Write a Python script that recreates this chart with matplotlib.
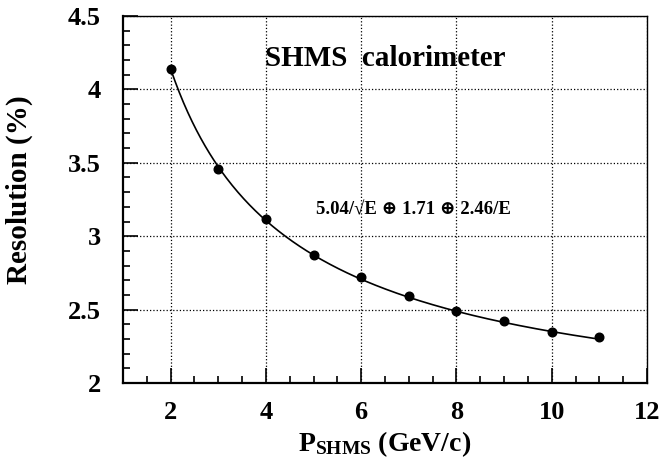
import matplotlib
matplotlib.use('Agg')
import matplotlib.pyplot as plt
import numpy as np

# data
momentum = [2, 3, 4, 5, 6, 7, 8, 9, 10, 11]
resolution = [4.14, 3.455, 3.12, 2.87, 2.725, 2.59, 2.49, 2.42, 2.345, 2.315]

# fit parameters printed on the chart
stoch = 5.04
const = 1.71
noise = 2.46

plt.rcParams['font.family'] = ['Liberation Serif', 'DejaVu Serif']
plt.rcParams['font.weight'] = 'bold'
plt.rcParams['mathtext.fontset'] = 'custom'
plt.rcParams['mathtext.rm'] = 'Liberation Serif:bold'
plt.rcParams['mathtext.bf'] = 'Liberation Serif:bold'
plt.rcParams['mathtext.it'] = 'Liberation Serif:bold'

fig = plt.figure(figsize=(6.62, 4.73), dpi=100)
ax = fig.add_axes([123 / 662, 1 - 383 / 473, (647 - 123) / 662, (383 - 16) / 473])

# fit curve
e = np.linspace(momentum[0], momentum[-1], 300)
fit = np.sqrt((stoch / np.sqrt(e)) ** 2 + const ** 2 + (noise / e) ** 2)
ax.plot(e, fit, color='black', lw=1.2, zorder=3)

# measured points
ax.plot(momentum, resolution, 'o', color='black', markersize=6.2, zorder=4)

ax.set_xlim(1, 12)
ax.set_ylim(2, 4.5)
ax.set_xticks([2, 4, 6, 8, 10, 12])
ax.set_xticks(np.arange(1, 12.01, 0.5), minor=True)
ax.set_yticks([2, 2.5, 3, 3.5, 4, 4.5])
ax.set_yticks(np.arange(2, 4.51, 0.1), minor=True)
ax.set_xticklabels(['2', '4', '6', '8', '10', '12'])
ax.set_yticklabels(['2', '2.5', '3', '3.5', '4', '4.5'])

ax.tick_params(which='both', direction='in', top=False, right=False,
               labelsize=19, width=1.2, color='black')
ax.tick_params(axis='x', which='major', length=11, pad=13)
ax.tick_params(axis='y', which='major', length=11, pad=16)
ax.tick_params(which='minor', length=5)
for lab in ax.get_xticklabels() + ax.get_yticklabels():
    lab.set_fontweight('bold')

ax.grid(True, which='major', linestyle=':', color='black', lw=0.9)
ax.set_axisbelow(True)

for side in ['left', 'bottom']:
    ax.spines[side].set_linewidth(1.6)
for side in ['top', 'right']:
    ax.spines[side].set_linewidth(1.0)

ax.set_xlabel(r'P$_{\mathrm{SHMS}}$ (GeV/c)', fontsize=20, fontweight='bold', va='baseline')
ax.xaxis.set_label_coords((385 - 123) / 524, -(451 - 383) / 367)
ax.set_ylabel('Resolution (%)', fontsize=21, fontweight='bold', va='top')
ax.yaxis.set_label_coords(-(123 - 6) / 524, (383 - 190) / 367)

ax.text(6.5, 4.21, 'SHMS  calorimeter', fontsize=21, fontweight='bold',
        ha='center', va='center')
ax.text(7.1, 3.18, '5.04/\u221aE \u2295 1.71 \u2295 2.46/E', fontsize=13.5,
        fontweight='bold', ha='center', va='center')

fig.savefig('out.png', dpi=100)
